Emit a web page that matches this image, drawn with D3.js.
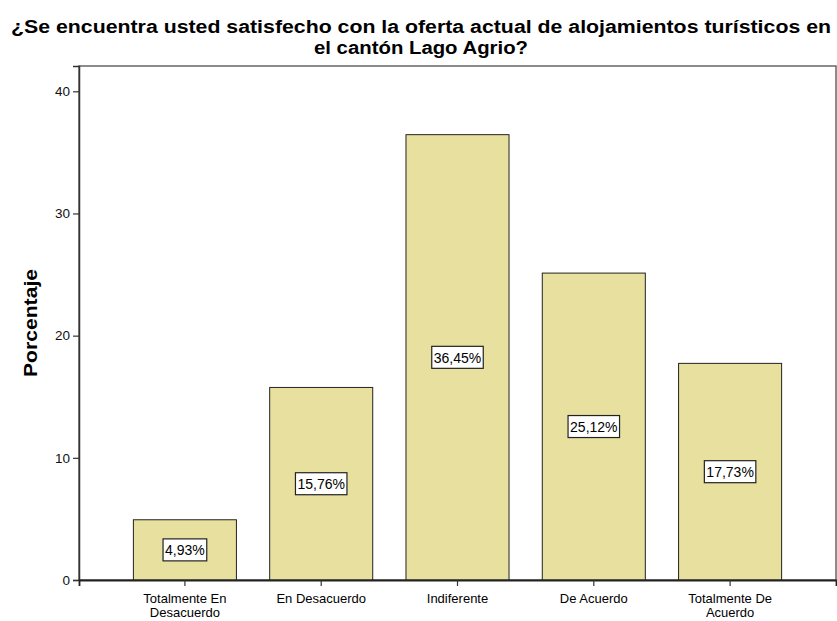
<!DOCTYPE html>
<html>
<head>
<meta charset="utf-8">
<script src="https://cdn.jsdelivr.net/npm/d3@7"></script>
<style>
  body { margin: 0; background: #fff; }
  text { font-family: "Liberation Sans", Arial, sans-serif; }
</style>
</head>
<body>
<script>
// data
var categories = ["Totalmente En Desacuerdo", "En Desacuerdo", "Indiferente", "De Acuerdo", "Totalmente De Acuerdo"];
var catLines = [["Totalmente En", "Desacuerdo"], ["En Desacuerdo"], ["Indiferente"], ["De Acuerdo"], ["Totalmente De", "Acuerdo"]];
var values = [4.93, 15.76, 36.45, 25.12, 17.73];
var valueLabels = ["4,93%", "15,76%", "36,45%", "25,12%", "17,73%"];
var yTicks = [0, 10, 20, 30, 40];
var titleLines = ["¿Se encuentra usted satisfecho con la oferta actual de alojamientos turísticos en", "el cantón Lago Agrio?"];
var titleWidths = [820, 214];

var W = 837, H = 621;
var box = { left: 79, right: 836, top: 66, bottom: 580 };

var svg = d3.select("body").append("svg")
  .attr("width", W)
  .attr("height", H);

var x = d3.scaleBand()
  .domain(categories)
  .range([box.left, box.right])
  .paddingInner(0.244)
  .paddingOuter(0.399);

var y = d3.scaleLinear()
  .domain([0, 42.07])
  .range([box.bottom, box.top]);

// title (reference font is narrow and tall, so stretch to its width)
svg.selectAll(".title")
  .data(titleLines)
  .enter().append("text")
  .attr("class", "title")
  .attr("x", 421)
  .attr("y", function (d, i) { return 33 + i * 21; })
  .attr("text-anchor", "middle")
  .attr("textLength", function (d, i) { return titleWidths[i]; })
  .attr("lengthAdjust", "spacingAndGlyphs")
  .style("font-size", "18px")
  .style("font-weight", "bold")
  .text(function (d) { return d; });

// frame
svg.append("rect")
  .attr("x", box.left)
  .attr("y", box.top)
  .attr("width", box.right - box.left)
  .attr("height", box.bottom - box.top)
  .attr("fill", "none")
  .attr("stroke", "#666")
  .attr("stroke-width", 1.5);

// bars
svg.selectAll(".bar")
  .data(values)
  .enter().append("rect")
  .attr("class", "bar")
  .attr("x", function (d, i) { return x(categories[i]); })
  .attr("y", function (d) { return y(d); })
  .attr("width", x.bandwidth())
  .attr("height", function (d) { return y(0) - y(d); })
  .attr("fill", "#e8e09e")
  .attr("stroke", "#222")
  .attr("stroke-width", 1);

// value labels in boxes
var lab = svg.selectAll(".lab")
  .data(values)
  .enter().append("g")
  .attr("class", "lab")
  .attr("transform", function (d, i) {
    return "translate(" + (x(categories[i]) + x.bandwidth() / 2) + "," + y(d / 2) + ")";
  });

lab.append("text")
  .attr("text-anchor", "middle")
  .attr("dy", "0.37em")
  .style("font-size", "14px")
  .text(function (d, i) { return valueLabels[i]; })
  .each(function () {
    var b = this.getBBox();
    d3.select(this.parentNode).insert("rect", "text")
      .attr("x", b.x - 2)
      .attr("y", -11)
      .attr("width", b.width + 4)
      .attr("height", 22)
      .attr("fill", "#fff")
      .attr("stroke", "#222")
      .attr("stroke-width", 1.2);
  });

// y axis
var yAxis = svg.append("g")
  .attr("transform", "translate(" + box.left + ",0)")
  .call(d3.axisLeft(y).tickValues(yTicks).tickSize(6).tickPadding(3));
yAxis.select(".domain").attr("stroke", "#333").attr("stroke-width", 1.5);
yAxis.selectAll(".tick line").attr("stroke", "#333").attr("stroke-width", 1.2);
yAxis.selectAll(".tick text").style("font-size", "13.5px").attr("fill", "#111");

// x axis
var xAxis = svg.append("g")
  .attr("transform", "translate(0," + box.bottom + ")")
  .call(d3.axisBottom(x).tickSize(6).tickFormat(""));
xAxis.select(".domain").attr("stroke", "#222").attr("stroke-width", 1.8);
xAxis.selectAll(".tick line").attr("stroke", "#333").attr("stroke-width", 1.2);

svg.selectAll(".cat")
  .data(categories)
  .enter().append("text")
  .attr("class", "cat")
  .attr("text-anchor", "middle")
  .attr("transform", function (d) { return "translate(" + (x(d) + x.bandwidth() / 2) + ",603)"; })
  .style("font-size", "13px")
  .each(function (d, i) {
    var t = d3.select(this);
    catLines[i].forEach(function (line, j) {
      t.append("tspan").attr("x", 0).attr("y", j * 13.5).text(line);
    });
  });

// y axis title
svg.append("text")
  .attr("transform", "translate(37,323) rotate(-90)")
  .attr("text-anchor", "middle")
  .attr("textLength", 108)
  .attr("lengthAdjust", "spacingAndGlyphs")
  .style("font-size", "18px")
  .style("font-weight", "bold")
  .text("Porcentaje");
</script>
</body>
</html>
